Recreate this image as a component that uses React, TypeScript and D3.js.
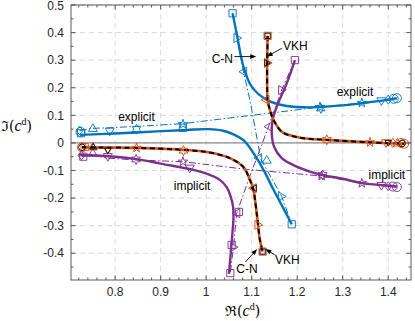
import React from "react";
import * as d3 from "d3";

type Pt = [number, number];
type Mark = [string, number, number];

const xTicks = [0.8, 0.9, 1, 1.1, 1.2, 1.3, 1.4];
const yTicks = [-0.4, -0.3, -0.2, -0.1, 0, 0.1, 0.2, 0.3, 0.4, 0.5];

// exact branches (solid), values read as [Re, Im]
const blueUpper: Pt[] = [[1.058, 0.47], [1.067, 0.397], [1.082, 0.276], [1.1, 0.204], [1.133, 0.156], [1.177, 0.134], [1.228, 0.129], [1.3, 0.136], [1.342, 0.144], [1.39, 0.154], [1.419, 0.162]];
const blueLower: Pt[] = [[0.723, 0.029], [0.8, 0.034], [0.847, 0.038], [0.957, 0.047], [1.005, 0.05], [1.035, 0.045], [1.06, 0.031], [1.082, 0.01], [1.104, -0.037], [1.126, -0.098], [1.148, -0.17], [1.168, -0.232], [1.188, -0.295]];
const purpleLower: Pt[] = [[0.72, -0.043], [0.8, -0.05], [0.847, -0.059], [0.9, -0.075], [0.972, -0.098], [1.008, -0.116], [1.03, -0.134], [1.045, -0.16], [1.053, -0.19], [1.059, -0.23], [1.06, -0.27], [1.058, -0.32], [1.055, -0.38], [1.05, -0.475]];
const purpleUpper: Pt[] = [[1.195, 0.3], [1.177, 0.216], [1.155, 0.132], [1.146, 0.083], [1.144, 0.035], [1.149, -0.013], [1.166, -0.055], [1.199, -0.086], [1.228, -0.104], [1.254, -0.116], [1.3, -0.13], [1.342, -0.146], [1.38, -0.152], [1.419, -0.158]];
const orangeUpper: Pt[] = [[1.135, 0.388], [1.134, 0.289], [1.134, 0.2], [1.135, 0.156], [1.14, 0.12], [1.148, 0.083], [1.168, 0.038], [1.21, 0.018], [1.265, 0.011], [1.36, 0.002], [1.435, -0.003]];
const orangeLower: Pt[] = [[0.727, -0.016], [0.847, -0.018], [0.957, -0.026], [1.008, -0.035], [1.052, -0.055], [1.082, -0.088], [1.096, -0.134], [1.103, -0.164], [1.111, -0.255], [1.118, -0.351], [1.124, -0.394]];

// explicit paths (dash-dot)
const blueExplicitH: Pt[] = [[0.722, 0.045], [0.751, 0.053], [0.788, 0.055], [0.847, 0.06], [0.949, 0.07], [1.25, 0.13], [1.342, 0.145], [1.385, 0.153], [1.419, 0.162]];
const blueExplicitV: Pt[] = [[1.058, 0.47], [1.068, 0.38], [1.082, 0.258], [1.096, 0.156], [1.12, -0.058], [1.166, -0.194], [1.188, -0.295]];
const purpleExplicitH: Pt[] = [[0.726, -0.05], [0.751, -0.045], [0.784, -0.055], [0.846, -0.062], [0.949, -0.068], [1.089, -0.096], [1.254, -0.12], [1.342, -0.146], [1.385, -0.155], [1.419, -0.16]];
const purpleExplicitV: Pt[] = [[1.195, 0.3], [1.166, 0.192], [1.137, 0.059], [1.093, -0.134], [1.067, -0.255], [1.06, -0.378], [1.053, -0.472]];

const blueMarks: Mark[] = [["s", 1.058, 0.47], [">", 1.068, 0.38], ["<", 1.082, 0.258],
  ["d", 0.722, 0.045], ["s", 0.725, 0.035], ["o", 0.724, 0.04], ["^", 0.751, 0.053], ["v", 0.788, 0.042], ["h", 0.847, 0.05], ["p", 0.949, 0.068], ["s", 0.949, 0.055],
  ["p", 1.25, 0.13], ["h", 1.252, 0.125], ["p", 1.342, 0.145], ["v", 1.385, 0.152], ["d", 1.4, 0.157], ["o", 1.412, 0.16], ["o", 1.419, 0.162],
  ["<", 1.115, -0.055], ["^", 1.133, -0.062], [">", 1.166, -0.194], ["s", 1.188, -0.295]];
const purpleMarks: Mark[] = [["s", 1.195, 0.3], [">", 1.166, 0.192], ["<", 1.137, 0.059], ["<", 1.067, -0.255], ["s", 1.072, -0.25], [">", 1.06, -0.378], ["s", 1.056, -0.37], ["s", 1.053, -0.472],
  ["d", 0.726, -0.045], ["s", 0.73, -0.05], ["^", 0.751, -0.037], ["v", 0.784, -0.05], ["h", 0.846, -0.06], ["p", 0.949, -0.068], ["v", 0.964, -0.092],
  ["p", 1.254, -0.12], ["h", 1.256, -0.116], ["p", 1.342, -0.146], ["v", 1.385, -0.155], ["d", 1.4, -0.157], ["o", 1.41, -0.158], ["o", 1.419, -0.16]];
const orangeMarks: Mark[] = [["s", 1.135, 0.388], [">", 1.135, 0.29], ["<", 1.131, 0.156], ["h", 1.265, 0.011], ["p", 1.36, 0.002], ["v", 1.395, 0], ["d", 1.41, 0], ["^", 1.42, 0], ["o", 1.428, 0], ["o", 1.435, -0.003],
  ["o", 0.727, -0.016], ["s", 0.733, -0.015], ["^", 0.751, -0.014], ["v", 0.784, -0.025], ["p", 0.847, -0.018], ["h", 0.95, -0.028], ["<", 1.103, -0.164], [">", 1.114, -0.297], ["s", 1.124, -0.394]];
const vkhMarks: Mark[] = [["o", 0.727, -0.016], ["^", 0.752, -0.014], ["v", 0.784, -0.027], ["s", 1.135, 0.388], ["s", 1.124, -0.394], ["<", 1.105, -0.164], [">", 1.134, 0.29], ["o", 1.43, -0.002], ["v", 1.4, 0]];

const notes = [
  { text: "explicit", re: 0.847, im: 0.08, anchor: "middle" },
  { text: "explicit", re: 1.327, im: 0.17, anchor: "middle" },
  { text: "implicit", re: 0.969, im: -0.17, anchor: "middle" },
  { text: "implicit", re: 1.397, im: -0.13, anchor: "middle" },
  { text: "C-N", re: 1.059, im: 0.29, anchor: "end" },
  { text: "VKH", re: 1.169, im: 0.337, anchor: "start" },
  { text: "C-N", re: 1.066, im: -0.47, anchor: "start" },
  { text: "VKH", re: 1.151, im: -0.44, anchor: "start" },
];
const arrows: { from: Pt; to: Pt }[] = [
  { from: [1.062, 0.313], to: [1.11, 0.313] },
  { from: [1.166, 0.343], to: [1.133, 0.313] },
  { from: [1.086, -0.432], to: [1.112, -0.385] },
  { from: [1.151, -0.406], to: [1.13, -0.385] },
];

const blue = "#0072BD", orange = "#D95319", purple = "#7E2F8E";

const markerPath = (shape: string, r: number) => {
  const poly = (a: number[][]) => "M" + a.map(p => p[0].toFixed(2) + "," + p[1].toFixed(2)).join("L") + "Z";
  const star = (n: number, inner: number) => poly(d3.range(n * 2).map(i => {
    const a = -Math.PI / 2 + i * Math.PI / n, rr = i % 2 ? r * inner : r * 1.1;
    return [rr * Math.cos(a), rr * Math.sin(a)];
  }));
  switch (shape) {
    case "s": return poly([[-r * .8, -r * .8], [r * .8, -r * .8], [r * .8, r * .8], [-r * .8, r * .8]]);
    case "d": return poly([[0, -r], [r * .75, 0], [0, r], [-r * .75, 0]]);
    case "^": return poly([[0, -r], [r, r * .7], [-r, r * .7]]);
    case "v": return poly([[0, r], [r, -r * .7], [-r, -r * .7]]);
    case ">": return poly([[r, 0], [-r * .7, -r], [-r * .7, r]]);
    case "<": return poly([[-r, 0], [r * .7, -r], [r * .7, r]]);
    case "p": return star(5, 0.42);
    case "h": return star(6, 0.58);
    default: return `M${r},0A${r},${r} 0 1 1 ${-r},0A${r},${r} 0 1 1 ${r},0Z`;
  }
};

export default function App() {
  const ref = React.useRef<SVGSVGElement>(null);

  React.useEffect(() => {
    const width = 415, height = 321;
    const margin = { left: 71, right: 4, top: 5, bottom: 41 };
    const svg = d3.select(ref.current);
    svg.selectAll("*").remove();

    const x = d3.scaleLinear().domain([0.703, 1.45]).range([margin.left, width - margin.right]);
    const y = d3.scaleLinear().domain([-0.497, 0.5]).range([height - margin.bottom, margin.top]);
    const [x0, x1] = x.range(), [y0, y1] = y.range();

    svg.append("defs").append("clipPath").attr("id", "plot")
      .append("rect").attr("x", x0).attr("y", y1).attr("width", x1 - x0).attr("height", y0 - y1);

    // grid
    const grid = svg.append("g").attr("stroke", "#dadada").attr("stroke-width", 1).attr("stroke-dasharray", "5,4");
    xTicks.forEach(t => grid.append("line").attr("x1", x(t)).attr("x2", x(t)).attr("y1", y0).attr("y2", y1));
    yTicks.forEach(t => grid.append("line").attr("y1", y(t)).attr("y2", y(t)).attr("x1", x0).attr("x2", x1));

    const plot = svg.append("g").attr("clip-path", "url(#plot)");
    plot.append("line").attr("x1", x0).attr("x2", x1).attr("y1", y(0)).attr("y2", y(0))
      .attr("stroke", "#8a8a8a").attr("stroke-width", 1.3);

    const smooth = d3.line<Pt>().x(d => x(d[0])).y(d => y(d[1])).curve(d3.curveCatmullRom.alpha(0.5));
    const straight = d3.line<Pt>().x(d => x(d[0])).y(d => y(d[1]));

    const draw = (pts: Pt[], gen: any, color: string, w: number, dash?: string) =>
      plot.append("path").attr("d", gen(pts)).attr("fill", "none").attr("stroke", color)
        .attr("stroke-width", w).attr("stroke-dasharray", dash || null).attr("stroke-linejoin", "round");

    const dashDot = "7,2.5,1.5,2.5";
    draw(blueExplicitH, straight, blue, 1, dashDot);
    draw(blueExplicitV, straight, blue, 1, dashDot);
    draw(purpleExplicitH, straight, purple, 1, dashDot);
    draw(purpleExplicitV, straight, purple, 1, dashDot);
    draw(blueUpper, smooth, blue, 2.4);
    draw(blueLower, smooth, blue, 2.4);
    draw(purpleUpper, smooth, purple, 2.4);
    draw(purpleLower, smooth, purple, 2.4);
    draw(orangeUpper, smooth, orange, 2.6);
    draw(orangeLower, smooth, orange, 2.6);
    draw(orangeUpper, smooth, "#000", 2, "5,3.5");
    draw(orangeLower, smooth, "#000", 2, "5,3.5");

    const marks = (list: Mark[], color: string, r: number, w: number) =>
      plot.append("g").selectAll("path").data(list).join("path")
        .attr("transform", d => `translate(${x(d[1])},${y(d[2])})`)
        .attr("d", d => markerPath(d[0], r))
        .attr("fill", "none").attr("stroke", color).attr("stroke-width", w);
    marks(blueMarks, blue, 4.5, 0.9);
    marks(purpleMarks, purple, 4.5, 0.9);
    marks(orangeMarks, orange, 4.5, 1);
    marks(vkhMarks, "#000", 3.3, 0.9);

    // annotations
    svg.append("g").selectAll("text").data(notes).join("text")
      .attr("x", d => x(d.re)).attr("y", d => y(d.im))
      .attr("text-anchor", d => d.anchor)
      .attr("font-family", "Liberation Sans, Arial, sans-serif").attr("font-size", 12)
      .attr("fill", "#000").text(d => d.text);

    arrows.forEach(a => {
      const ax = x(a.from[0]), ay = y(a.from[1]), bx = x(a.to[0]), by = y(a.to[1]);
      const ang = Math.atan2(by - ay, bx - ax), L = 6, W = 2.3;
      svg.append("line").attr("x1", ax).attr("y1", ay)
        .attr("x2", bx - Math.cos(ang) * L * 0.8).attr("y2", by - Math.sin(ang) * L * 0.8)
        .attr("stroke", "#000").attr("stroke-width", 0.9);
      const p = (d: number, s: number) => [bx - Math.cos(ang) * d - Math.sin(ang) * s, by - Math.sin(ang) * d + Math.cos(ang) * s];
      const h = [[bx, by], p(L, W), p(L, -W)];
      svg.append("path").attr("d", "M" + h.map(q => q.join(",")).join("L") + "Z").attr("fill", "#000");
    });

    // axes box with inward ticks
    const axisColor = "#4a4a4a";
    const ax = svg.append("g").attr("stroke", axisColor).attr("stroke-width", 0.9);
    ax.append("rect").attr("x", x0).attr("y", y1).attr("width", x1 - x0).attr("height", y0 - y1).attr("fill", "none");
    const xMinor = d3.range(0.72, 1.451, 0.02);
    const yMinor = d3.range(-0.45, 0.51, 0.05);
    xMinor.forEach(t => {
      const big = xTicks.some(v => Math.abs(v - t) < 1e-6), L = big ? 4.5 : 2.5;
      ax.append("line").attr("x1", x(t)).attr("x2", x(t)).attr("y1", y0).attr("y2", y0 - L);
      ax.append("line").attr("x1", x(t)).attr("x2", x(t)).attr("y1", y1).attr("y2", y1 + L);
    });
    yMinor.forEach(t => {
      const big = yTicks.some(v => Math.abs(v - t) < 1e-6), L = big ? 4.5 : 2.5;
      ax.append("line").attr("y1", y(t)).attr("y2", y(t)).attr("x1", x0).attr("x2", x0 + L);
      ax.append("line").attr("y1", y(t)).attr("y2", y(t)).attr("x1", x1).attr("x2", x1 - L);
    });

    const fmt = (v: number) => String(+v.toFixed(1));
    svg.append("g").selectAll("text").data(xTicks).join("text")
      .attr("x", d => x(d)).attr("y", y0 + 16).attr("text-anchor", "middle")
      .attr("font-family", "Liberation Sans, Arial, sans-serif").attr("font-size", 12).attr("fill", "#262626")
      .text(fmt);
    svg.append("g").selectAll("text").data(yTicks).join("text")
      .attr("x", x0 - 7).attr("y", d => Math.max(y(d), 6)).attr("dy", "0.35em").attr("text-anchor", "end")
      .attr("font-family", "Liberation Sans, Arial, sans-serif").attr("font-size", 12).attr("fill", "#262626")
      .text(fmt);

    const mathLabel = (tx: number, ty: number, anchor: string, sym: string) => {
      const t = svg.append("text").attr("x", tx).attr("y", ty).attr("text-anchor", anchor)
        .attr("font-family", "DejaVu Serif, Liberation Serif, serif").attr("font-size", 14).attr("fill", "#000");
      t.append("tspan").text(sym + "(");
      t.append("tspan").attr("font-family", "Liberation Serif, serif").attr("font-style", "italic").attr("font-size", 16).text("c");
      t.append("tspan").attr("font-family", "Liberation Serif, serif").attr("font-size", 10).attr("dy", -6).text("d");
      t.append("tspan").attr("dy", 6).text(")");
    };
    mathLabel(1, 131, "start", "ℑ");
    mathLabel(x(1.08), 316, "middle", "ℜ");
  }, []);

  return (
    <svg ref={ref} width={415} height={321}
      style={{ position: "absolute", left: 0, top: 0, background: "#fff" }} />
  );
}
